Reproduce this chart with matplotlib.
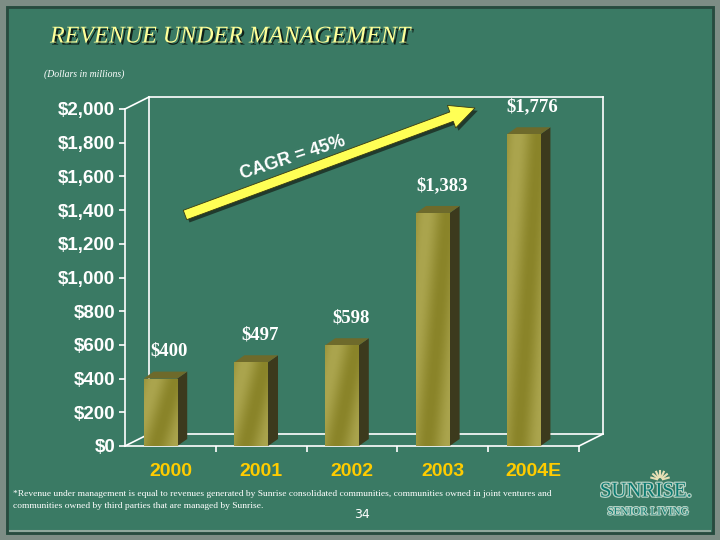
import numpy as np
import matplotlib
matplotlib.use("Agg")
import matplotlib.pyplot as plt
import matplotlib.patheffects as pe
from matplotlib.patches import Polygon, FancyArrow, Rectangle
from matplotlib.lines import Line2D
from matplotlib.transforms import IdentityTransform
from matplotlib.colors import LinearSegmentedColormap

# data
years = ["2000", "2001", "2002", "2003", "2004E"]
revenue = [400, 497, 598, 1383, 1850]      # bar heights as drawn
value_labels = ["$400", "$497", "$598", "$1,383", "$1,776"]
yticks = list(range(0, 2001, 200))

bg = "#3a7a64"
fig = plt.figure(figsize=(7.2, 5.4), dpi=100)
fig.patch.set_facecolor(bg)

# plot area (front plane), pixel based so the 3d bits line up
ax = fig.add_axes([125 / 720, 94 / 540, 454 / 720, 337 / 540])
ax.set_facecolor("none")
ax.set_xlim(-0.5, 4.5)
ax.set_ylim(0, 2000)
for s in ["top", "right"]:
    ax.spines[s].set_visible(False)
for s in ["left", "bottom"]:
    ax.spines[s].set_color("white")
    ax.spines[s].set_linewidth(1.2)

ax.set_yticks(yticks)
ax.set_yticklabels([f"${v:,}" for v in yticks])
ax.tick_params(axis="y", colors="white", length=4, width=1.2, pad=3)
for t in ax.get_yticklabels():
    t.set_fontfamily("Liberation Sans")
    t.set_fontweight("bold")
    t.set_fontsize(13.5)

x = np.arange(len(years))
ax.set_xticks(x)
ax.set_xticklabels(years)
ax.set_xticks(x + 0.5, minor=True)
ax.tick_params(axis="x", which="major", length=0, pad=12, colors="#ffcc00")
ax.tick_params(axis="x", which="minor", length=4, width=1.2, color="white")
for t in ax.get_xticklabels():
    t.set_fontfamily("Liberation Sans")
    t.set_fontweight("bold")
    t.set_fontsize(14)

ident = IdentityTransform()
def px(xv, yv):
    return ax.transData.transform((xv, yv))

# back wall of the 3d box
wx, wy = 24, 12
x0, y0 = px(-0.5, 0)
x1, y1 = px(4.5, 2000)
wall = [
    [(x0, y1), (x0 + wx, y1 + wy)],
    [(x0 + wx, y1 + wy), (x1 + wx, y1 + wy)],
    [(x1 + wx, y1 + wy), (x1 + wx, y0 + wy)],
    [(x0 + wx, y0 + wy), (x1 + wx, y0 + wy)],
    [(x0 + wx, y0 + wy), (x0 + wx, y1 + wy)],
    [(x0, y0), (x0 + wx, y0 + wy)],
    [(x1, y0), (x1 + wx, y0 + wy)],
]
for seg in wall:
    (a, b), (c, d) = seg
    ax.add_line(Line2D([a, c], [b, d], color="white", lw=1.2,
                       transform=ident, clip_on=False, zorder=1))

# bars: front face with gradient, plus side and top faces
shift = -0.11
width = 0.37
dx, dy = 10, 7
grad = np.linspace(0, 1, 64)[None, :] + np.linspace(0, 0.6, 64)[:, None]
grad = 0.5 + 0.5 * np.sin(grad * 5.0)
cmap = LinearSegmentedColormap.from_list("olive", ["#8a8429", "#aba54e"])
for i, h in enumerate(revenue):
    left = i + shift - width / 2
    bars = ax.bar(left, h, width=width, align="edge", color="#9c963d",
                  zorder=3, linewidth=0)
    im = ax.imshow(grad, extent=(left, left + width, 0, h), aspect="auto",
                   cmap=cmap, zorder=3.5)
    im.set_clip_path(bars[0])
    bl = px(left, 0)
    br = px(left + width, 0)
    tl = px(left, h)
    tr = px(left + width, h)
    side = Polygon([br, tr, (tr[0] + dx, tr[1] + dy), (br[0] + dx, br[1] + dy)],
                   closed=True, facecolor="#3c3a1d", edgecolor="none",
                   transform=ident, zorder=3)
    top = Polygon([tl, tr, (tr[0] + dx, tr[1] + dy), (tl[0] + dx, tl[1] + dy)],
                  closed=True, facecolor="#6e6a2b", edgecolor="none",
                  transform=ident, zorder=3)
    ax.add_patch(side)
    ax.add_patch(top)
    ax.annotate(value_labels[i], (i + shift, h), xytext=(9, 19),
                textcoords="offset pixels", ha="center", va="bottom",
                color="white", fontsize=13.5, fontweight="bold",
                family="Liberation Serif", zorder=5)

# CAGR arrow
arrow = FancyArrow(185, 325, 290, 107, width=10, head_width=24, head_length=25,
                   length_includes_head=True, facecolor="#ffff55",
                   edgecolor="#3a3a10", linewidth=0.6, transform=ident,
                   path_effects=[pe.SimplePatchShadow(offset=(2, -2), shadow_rgbFace="#1a2a20", alpha=0.8), pe.Normal()])
fig.add_artist(arrow)
fig.text(293 / 720, 1 - 158 / 540, "CAGR = 45%", rotation=18, ha="center",
         va="center", color="white", fontsize=13, fontweight="bold",
         family="Liberation Sans", rotation_mode="anchor")

# titles and notes
fig.text(50 / 720, 1 - 37 / 540, "REVENUE UNDER MANAGEMENT", ha="left",
         va="center", color="#ffff99", fontsize=17.3, style="italic",
         family="Liberation Serif",
         path_effects=[pe.withSimplePatchShadow(offset=(1.5, -1.5), shadow_rgbFace="#102018", alpha=1)])
fig.text(44 / 720, 1 - 74 / 540, "(Dollars in millions)", ha="left", va="center",
         color="white", fontsize=7, style="italic", family="Liberation Serif")
fig.text(13 / 720, 1 - 494 / 540,
         "*Revenue under management is equal to revenues generated by Sunrise consolidated communities, "
         "communities owned in joint ventures and", ha="left", va="center",
         color="white", fontsize=6.8, family="Liberation Serif")
fig.text(13 / 720, 1 - 506 / 540,
         "communities owned by third parties that are managed by Sunrise.",
         ha="left", va="center", color="white", fontsize=6.8,
         family="Liberation Serif")
fig.text(362 / 720, 1 - 514 / 540, "34", ha="center", va="center",
         color="white", fontsize=9, family="DejaVu Sans")

# logo
fig.text(646 / 720, 1 - 492 / 540, "SUNRISE.", ha="center", va="center",
         color="#0b7a70", fontsize=15, family="Liberation Serif",
         path_effects=[pe.withStroke(linewidth=1.8, foreground="#b5d0c2")])
fig.text(648 / 720, 1 - 512 / 540, "SENIOR LIVING", ha="center", va="center",
         color="#0b7a70", fontsize=8, family="Liberation Serif",
         path_effects=[pe.withStroke(linewidth=1.5, foreground="#b5d0c2")])
for ang in np.linspace(15, 165, 7):
    r = np.deg2rad(ang)
    cx, cy = 660, 540 - 480
    fig.add_artist(Line2D([cx + 3 * np.cos(r), cx + 9 * np.cos(r)],
                          [cy + 3 * np.sin(r), cy + 9 * np.sin(r)],
                          color="#e6dfb5", lw=1.5, transform=ident))

# slide frame
fig.add_artist(Rectangle((0, 0), 1, 1, transform=fig.transFigure, fill=False,
                         edgecolor="#7d8d85", linewidth=8))
fig.add_artist(Rectangle((7 / 720, 7 / 540), 706 / 720, 526 / 540,
                         transform=fig.transFigure, fill=False,
                         edgecolor="#284a3e", linewidth=2))
fig.add_artist(Line2D([10 / 720, 710 / 720], [9 / 540, 9 / 540],
                      transform=fig.transFigure, color="#8fa89c", lw=1.5))

fig.savefig("out.png", dpi=100, facecolor=fig.get_facecolor())
